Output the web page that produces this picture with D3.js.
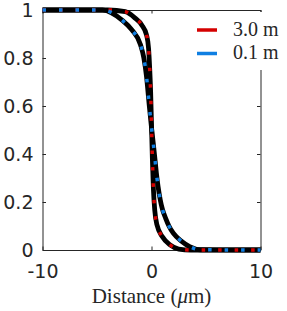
<!DOCTYPE html>
<meta charset="utf-8">
<style>
body { margin: 0; background: #fff; }
.axis text { font: 19px "DejaVu Sans", sans-serif; fill: #262626; }
.label { font: 21px "Liberation Serif", serif; fill: #262626; }
.legend text { font: 20px "Liberation Serif", serif; fill: #262626; }
</style>
<svg width="287" height="311"></svg>
<script src="https://cdn.jsdelivr.net/npm/d3@7"></script>
<script>

// profiles
var redX = [-10, -4, -2.4, -1.5, -0.9, -0.45, -0.27, -0.17, -0.08, 0, 0.08, 0.18, 0.3, 0.5, 1.0, 1.7, 2.5, 3.6, 10];
var redY = [1, 1, 0.993, 0.966, 0.938, 0.895, 0.84, 0.76, 0.66, 0.52, 0.38, 0.25, 0.165, 0.105, 0.055, 0.021, 0.004, 0, 0];

var blueX = [-10, -4.5, -2.7, -1.8, -1.0, -0.7, -0.45, -0.2, 0, 0.15, 0.28, 0.45, 0.6, 0.8, 1.0, 1.3, 1.6, 2.0, 2.8, 3.5, 4.5, 10];
var blueY = [1, 1, 0.958, 0.917, 0.854, 0.80, 0.72, 0.6, 0.51, 0.45, 0.395, 0.32, 0.265, 0.21, 0.17, 0.132, 0.1, 0.07, 0.035, 0.014, 0.001, 0];

var seriesNames = ["3.0 m", "0.1 m"];
var seriesColors = ["#d40000", "#0f7fe2"];

var xTicks = [-10, 0, 10];
var yTicks = [0, 0.2, 0.4, 0.6, 0.8, 1];

var svg = d3.select("svg"),
    margin = {top: 10, right: 26.5, bottom: 61, left: 42.5},
    width = +svg.attr("width") - margin.left - margin.right,
    height = +svg.attr("height") - margin.top - margin.bottom,
    g = svg.append("g").attr("transform", "translate(" + margin.left + "," + margin.top + ")");

var xScale = d3.scaleLinear().domain([-10, 10]).range([0, width]);
var yScale = d3.scaleLinear().domain([0, 1]).range([height, 0]);

var axisColor = "#262626";

// box with inward ticks on all four sides
function styleAxis(sel) {
  sel.select(".domain").attr("stroke", axisColor);
  sel.selectAll(".tick line").attr("stroke", axisColor);
}

g.append("g").attr("class", "axis")
  .attr("transform", "translate(0," + height + ")")
  .call(d3.axisBottom(xScale).tickValues(xTicks).tickFormat(function(d) { return String(d); })
    .tickSize(-3.5).tickSizeOuter(0))
  .call(styleAxis)
  .call(function(a) { a.selectAll("text").attr("dy", "0.71em").attr("y", 14.5); });

g.append("g").attr("class", "axis")
  .call(d3.axisLeft(yScale).tickValues(yTicks).tickFormat(function(d) { return String(d); })
    .tickSize(-3.5).tickPadding(9).tickSizeOuter(0))
  .call(styleAxis);

g.append("g").attr("class", "axis")
  .call(d3.axisTop(xScale).tickValues(xTicks).tickSize(-3.5).tickFormat("").tickSizeOuter(0))
  .call(styleAxis);

g.append("g").attr("class", "axis")
  .attr("transform", "translate(" + width + ",0)")
  .call(d3.axisRight(yScale).tickValues(yTicks).tickSize(-3.5).tickFormat("").tickSizeOuter(0))
  .call(styleAxis);

// curves: black solid underneath, coloured dashes on top
var line = d3.line()
  .x(function(d) { return xScale(d[0]); })
  .y(function(d) { return yScale(d[1]); })
  .curve(d3.curveMonotoneX);

var series = [d3.zip(redX, redY), d3.zip(blueX, blueY)];

series.forEach(function(pts) {
  g.append("path")
    .datum(pts)
    .attr("fill", "none")
    .attr("stroke", "#000")
    .attr("stroke-width", 4.8)
    .attr("d", line);
});

series.forEach(function(pts, i) {
  g.append("path")
    .datum(pts)
    .attr("fill", "none")
    .attr("stroke", seriesColors[i])
    .attr("stroke-width", 3.5)
    .attr("stroke-dasharray", "3.5,13")
    .attr("d", line);
});

// x label, mu in italics like math mode
var xl = svg.append("text")
  .attr("class", "label")
  .attr("x", margin.left + width / 2)
  .attr("y", 303)
  .attr("text-anchor", "middle");
xl.append("tspan").text("Distance (");
xl.append("tspan").attr("font-style", "italic").text("μ");
xl.append("tspan").text("m)");

// legend with white background
var legend = svg.append("g").attr("class", "legend");
legend.append("rect")
  .attr("x", 190).attr("y", 12)
  .attr("width", 97).attr("height", 58)
  .attr("fill", "#fff");

seriesNames.forEach(function(name, i) {
  var y = 30 + i * 23.5;
  legend.append("line")
    .attr("x1", 197).attr("x2", 217)
    .attr("y1", y).attr("y2", y)
    .attr("stroke", seriesColors[i])
    .attr("stroke-width", 3.5);
  legend.append("text")
    .attr("x", 233)
    .attr("y", y + 5.5)
    .text(name);
});

</script>
